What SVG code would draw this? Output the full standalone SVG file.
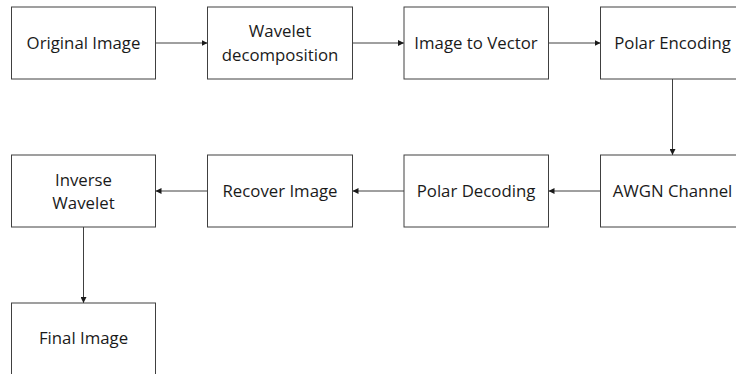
<svg xmlns="http://www.w3.org/2000/svg" width="736" height="374" viewBox="0 0 736 374">
<style>
.box{fill:#fff;stroke:#404040;stroke-width:1}
.lbl{font-family:"Open Sans","Noto Sans","Liberation Sans",sans-serif;font-size:16.8px;fill:#1a1a1a;text-anchor:middle}
.con{stroke:#404040;stroke-width:1;fill:none;marker-end:url(#ah)}
</style>
<defs>
<marker id="ah" viewBox="0 0 6 6" refX="6" refY="3" markerWidth="6" markerHeight="6" markerUnits="userSpaceOnUse" orient="auto">
<path d="M0,0 L6,3 L0,6 z" fill="#1a1a1a"/>
</marker>
</defs>
<rect width="736" height="374" fill="#fff"/>
<g id="connectors">
<line class="con" x1="155.5" y1="43" x2="207.5" y2="43"/>
<line class="con" x1="352.5" y1="43" x2="404" y2="43"/>
<line class="con" x1="548.5" y1="43" x2="600.5" y2="43"/>
<line class="con" x1="672.5" y1="79" x2="672.5" y2="155"/>
<line class="con" x1="600.5" y1="191" x2="548.5" y2="191"/>
<line class="con" x1="404" y1="191" x2="352.5" y2="191"/>
<line class="con" x1="207.5" y1="191" x2="155.5" y2="191"/>
<line class="con" x1="83.5" y1="227" x2="83.5" y2="303"/>
</g>
<g id="original-image"><rect class="box" x="11.5" y="7" width="144" height="72"/><text class="lbl" x="83.5" y="49">Original Image</text></g>
<g id="wavelet-decomposition"><rect class="box" x="207.5" y="7" width="145" height="72"/><text class="lbl" x="280" y="37">Wavelet</text><text class="lbl" x="280" y="61">decomposition</text></g>
<g id="image-to-vector"><rect class="box" x="404" y="7" width="144.5" height="72"/><text class="lbl" x="476" y="49">Image to Vector</text></g>
<g id="polar-encoding"><rect class="box" x="600.5" y="7" width="144" height="72"/><text class="lbl" x="672.5" y="49">Polar Encoding</text></g>
<g id="awgn-channel"><rect class="box" x="600.5" y="155" width="144" height="72"/><text class="lbl" x="672.5" y="197">AWGN Channel</text></g>
<g id="polar-decoding"><rect class="box" x="404" y="155" width="144.5" height="72"/><text class="lbl" x="476" y="197">Polar Decoding</text></g>
<g id="recover-image"><rect class="box" x="207.5" y="155" width="145" height="72"/><text class="lbl" x="280" y="197">Recover Image</text></g>
<g id="inverse-wavelet"><rect class="box" x="11.5" y="155" width="144" height="72"/><text class="lbl" x="83.5" y="185.5">Inverse</text><text class="lbl" x="83.5" y="209">Wavelet</text></g>
<g id="final-image"><rect class="box" x="11.5" y="303" width="144" height="72"/><text class="lbl" x="83.5" y="344">Final Image</text></g>
</svg>
